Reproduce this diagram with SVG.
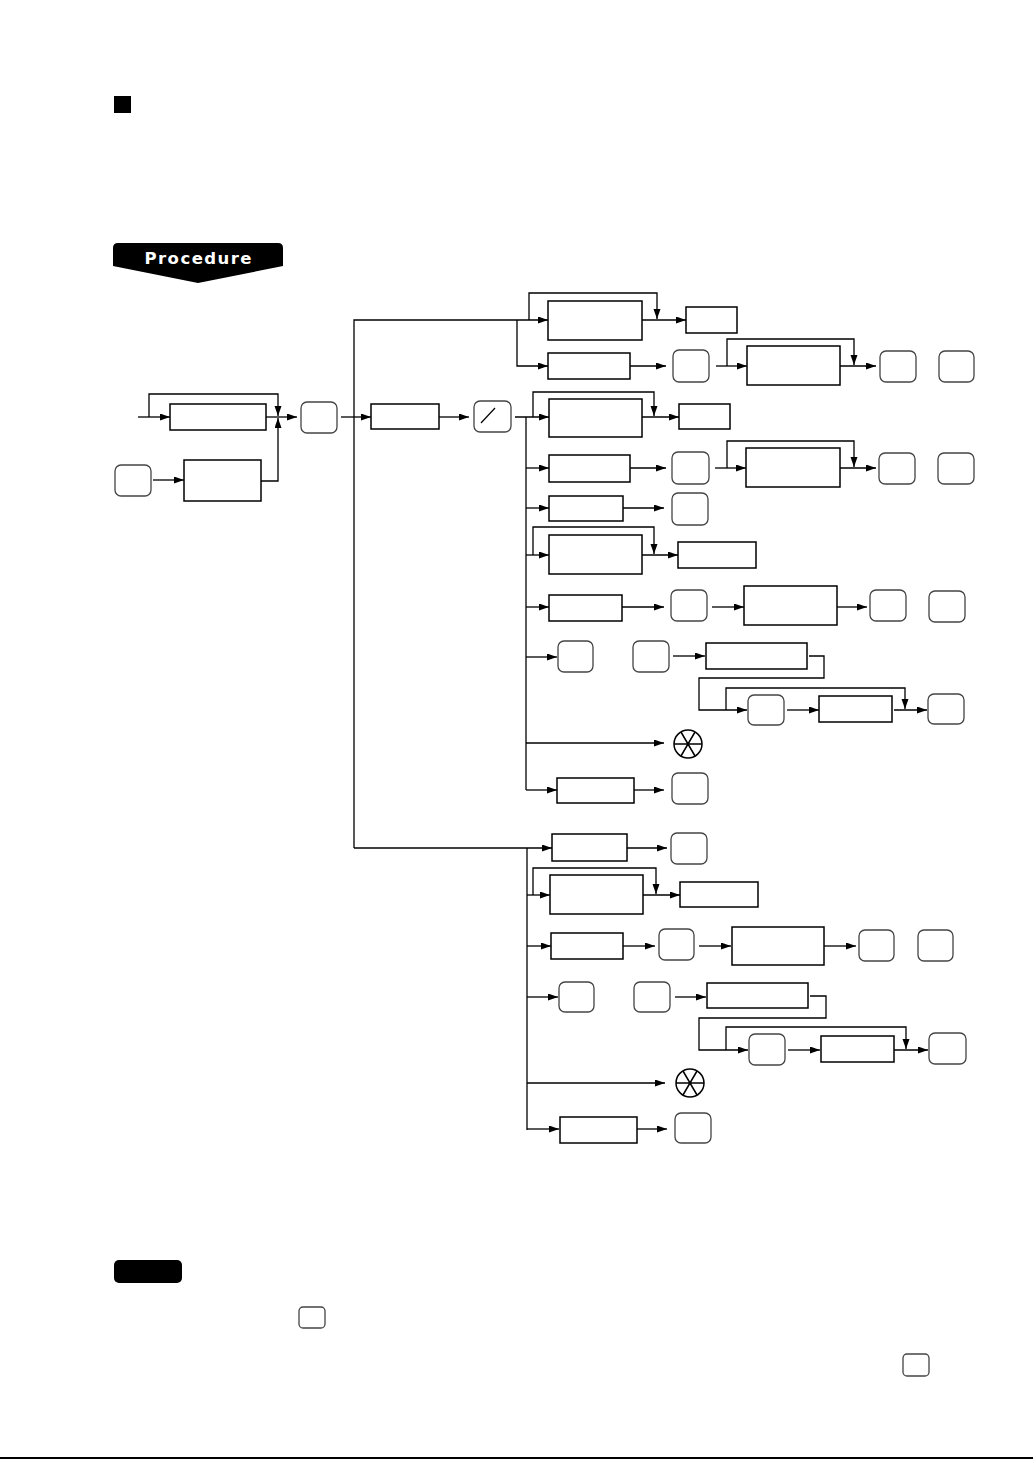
<svg xmlns="http://www.w3.org/2000/svg" width="1033" height="1459" viewBox="0 0 1033 1459">
<style>
.box{fill:#fff;stroke:#000;stroke-width:1.5}
.key{fill:#fff;stroke:#444;stroke-width:1.3}
.c{fill:none;stroke:#000;stroke-width:1.3}
.sym{fill:none;stroke:#000;stroke-width:1.5}
</style>
<defs>
<marker id="a" markerUnits="userSpaceOnUse" markerWidth="11" markerHeight="8" refX="10" refY="3.5" orient="auto"><path d="M0,0 L10,3.5 L0,7 z" fill="#000"/></marker>
</defs>
<rect width="1033" height="1459" fill="#fff"/>
<g id="header">
<rect x="114" y="96" width="17" height="17" fill="#000"/>
<path d="M113,248 Q113,243 118,243 H278 Q283,243 283,248 V266 L198,283 L113,266 Z" fill="#000"/>
<text x="198" y="263.5" text-anchor="middle" font-family="DejaVu Sans, Liberation Sans, sans-serif" font-weight="bold" font-size="16.5" fill="#fff" textLength="107" lengthAdjust="spacing">Procedure</text>
</g>
<g id="connectors" class="c" marker-end="url(#a)">
<path d="M138,417 H170"/>
<path d="M149,417 V394 H278 V416"/>
<path d="M266,417 H297"/>
<path d="M261,481 H278 V418"/>
<path d="M153,480 H184"/>
<path d="M341,417 H371"/>
<path d="M439,417 H469"/>
<path d="M354,848 V320 H548"/>
<path d="M517,320 V366 H548"/>
<path d="M529,320 V293 H657 V319"/>
<path d="M642,320 H686"/>
<path d="M630,366 H666"/>
<path d="M716,366 H747"/>
<path d="M727,366 V339 H854 V365"/>
<path d="M840,366 H876"/>
<path d="M515,417 H549"/>
<path d="M526,417 V790" marker-end="none"/>
<path d="M533,417 V392 H654 V416"/>
<path d="M642,417 H679"/>
<path d="M526,468 H549"/>
<path d="M630,468 H666"/>
<path d="M715,468 H746"/>
<path d="M727,468 V441 H854 V467"/>
<path d="M840,468 H876"/>
<path d="M526,508 H549"/>
<path d="M623,508 H664"/>
<path d="M526,555 H549"/>
<path d="M533,555 V527 H654 V554"/>
<path d="M642,555 H678"/>
<path d="M526,607 H549"/>
<path d="M622,607 H664"/>
<path d="M712,607 H744"/>
<path d="M837,607 H867"/>
<path d="M526,657 H557"/>
<path d="M673,656 H705"/>
<path d="M809,656 H824 V678 H699 V710 H747"/>
<path d="M726,710 V688 H905 V709"/>
<path d="M787,710 H819"/>
<path d="M894,710 H927"/>
<path d="M526,743 H664"/>
<path d="M526,790 H557"/>
<path d="M634,790 H664"/>
<path d="M354,848 H552"/>
<path d="M527,848 V1130" marker-end="none"/>
<path d="M627,848 H667"/>
<path d="M527,895 H550"/>
<path d="M533,895 V868 H656 V894"/>
<path d="M643,895 H680"/>
<path d="M527,946 H551"/>
<path d="M623,946 H655"/>
<path d="M699,946 H731"/>
<path d="M824,946 H856"/>
<path d="M527,997 H558"/>
<path d="M675,997 H706"/>
<path d="M810,996 H826 V1018 H699 V1050 H748"/>
<path d="M726,1050 V1027 H906 V1049"/>
<path d="M788,1050 H820"/>
<path d="M894,1050 H928"/>
<path d="M527,1083 H665"/>
<path d="M527,1129 H559"/>
<path d="M637,1129 H667"/>
</g>
<g id="n-left">
<rect class="box" x="170" y="404" width="96" height="26"/>
<rect class="key" x="115" y="465" width="36" height="31" rx="6"/>
<rect class="box" x="184" y="460" width="77" height="41"/>
<rect class="key" x="301" y="402" width="36" height="31" rx="6"/>
<rect class="box" x="371" y="404" width="68" height="25"/>
<g id="n-slash"><rect class="key" x="474" y="401" width="37" height="31" rx="6"/><line x1="481" y1="423" x2="495" y2="408" stroke="#000" stroke-width="1.2"/></g>
</g>
<g id="n-top">
<rect class="box" x="548" y="301" width="94" height="39"/>
<rect class="box" x="686" y="307" width="51" height="26"/>
<rect class="box" x="548" y="353" width="82" height="26"/>
<rect class="key" x="673" y="350" width="36" height="32" rx="6"/>
<rect class="box" x="747" y="346" width="93" height="39"/>
<rect class="key" x="880" y="351" width="36" height="31" rx="6"/>
<rect class="key" x="939" y="351" width="35" height="31" rx="6"/>
</g>
<g id="n-mid">
<rect class="box" x="549" y="399" width="93" height="38"/>
<rect class="box" x="679" y="404" width="51" height="25"/>
<rect class="box" x="549" y="455" width="81" height="27"/>
<rect class="key" x="672" y="452" width="37" height="32" rx="6"/>
<rect class="box" x="746" y="448" width="94" height="39"/>
<rect class="key" x="879" y="453" width="36" height="31" rx="6"/>
<rect class="key" x="938" y="453" width="36" height="31" rx="6"/>
<rect class="box" x="549" y="496" width="74" height="25"/>
<rect class="key" x="672" y="493" width="36" height="32" rx="6"/>
<rect class="box" x="549" y="535" width="93" height="39"/>
<rect class="box" x="678" y="542" width="78" height="26"/>
<rect class="box" x="549" y="595" width="73" height="26"/>
<rect class="key" x="671" y="590" width="36" height="31" rx="6"/>
<rect class="box" x="744" y="586" width="93" height="39"/>
<rect class="key" x="870" y="590" width="36" height="31" rx="6"/>
<rect class="key" x="929" y="591" width="36" height="31" rx="6"/>
<rect class="key" x="558" y="641" width="35" height="31" rx="6"/>
<rect class="key" x="633" y="641" width="36" height="31" rx="6"/>
<rect class="box" x="706" y="643" width="101" height="26"/>
<rect class="key" x="748" y="695" width="36" height="30" rx="6"/>
<rect class="box" x="819" y="696" width="73" height="26"/>
<rect class="key" x="928" y="694" width="36" height="30" rx="6"/>
<g id="n-x1"><circle class="sym" cx="688" cy="744" r="14"/><path class="sym" d="M674,744 H702 M681,732 L695,756 M695,732 L681,756"/></g>
<rect class="box" x="557" y="778" width="77" height="25"/>
<rect class="key" x="672" y="773" width="36" height="31" rx="6"/>
</g>
<g id="n-bottom">
<rect class="box" x="552" y="834" width="75" height="27"/>
<rect class="key" x="671" y="833" width="36" height="31" rx="6"/>
<rect class="box" x="550" y="875" width="93" height="39"/>
<rect class="box" x="680" y="882" width="78" height="25"/>
<rect class="box" x="551" y="933" width="72" height="26"/>
<rect class="key" x="659" y="929" width="35" height="31" rx="6"/>
<rect class="box" x="732" y="927" width="92" height="38"/>
<rect class="key" x="859" y="930" width="35" height="31" rx="6"/>
<rect class="key" x="918" y="930" width="35" height="31" rx="6"/>
<rect class="key" x="559" y="982" width="35" height="30" rx="6"/>
<rect class="key" x="634" y="982" width="36" height="30" rx="6"/>
<rect class="box" x="707" y="983" width="101" height="25"/>
<rect class="key" x="749" y="1034" width="36" height="31" rx="6"/>
<rect class="box" x="821" y="1036" width="73" height="26"/>
<rect class="key" x="929" y="1033" width="37" height="31" rx="6"/>
<g id="n-x2"><circle class="sym" cx="690" cy="1083" r="14"/><path class="sym" d="M676,1083 H704 M683,1071 L697,1095 M697,1071 L683,1095"/></g>
<rect class="box" x="560" y="1117" width="77" height="26"/>
<rect class="key" x="675" y="1113" width="36" height="30" rx="6"/>
</g>
<g id="footer">
<rect x="114" y="1260" width="68" height="23" rx="5" fill="#000"/>
<rect class="key" x="299" y="1307" width="26" height="21" rx="4"/>
<rect class="key" x="903" y="1354" width="26" height="22" rx="4"/>
<rect x="0" y="1457" width="1033" height="2" fill="#000"/>
</g>
</svg>
